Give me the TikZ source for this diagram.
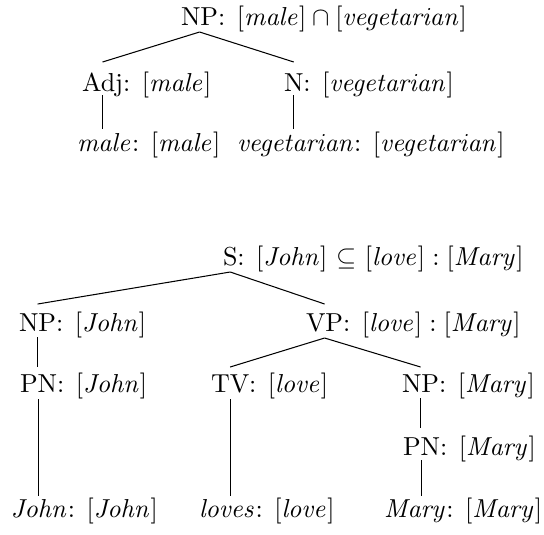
\documentclass[tikz,border=0pt]{standalone}
\usetikzlibrary{calc}
\begin{document}
\begin{tikzpicture}[x=0.385pt,y=-0.385pt,
  cat/.style={anchor=base west,inner sep=0pt,outer sep=0pt},
  sem/.style={anchor=base west,inner sep=0pt,outer sep=0pt},
  branch/.style={line width=0.4pt}]
\useasboundingbox (0,0) rectangle (544,534);

% ---- NP: male vegetarian ----
\node[cat] (np0) at (181,25) {NP};
\node[sem] at (np0.base east) {: $[\mathit{male}]\cap[\mathit{vegetarian}]$};
\node[cat] (adj) at (82,91) {Adj};
\node[sem] at (adj.base east) {: $[\mathit{male}]$};
\node[cat] (n) at (284,91) {N};
\node[sem] at (n.base east) {: $[\mathit{vegetarian}]$};
\node[cat] (male) at (77,151) {$\mathit{male}$};
\node[sem] at (male.base east) {: $[\mathit{male}]$};
\node[cat] (veg) at (237,151) {$\mathit{vegetarian}$};
\node[sem] at (veg.base east) {: $[\mathit{vegetarian}]$};

\draw[branch] ($(np0.base)+(0,7)$) -- ($(adj.base)+(0,-29)$);
\draw[branch] ($(np0.base)+(0,7)$) -- ($(n.base)+(0,-29)$);
\draw[branch] ($(adj.base)+(0,4)$) -- ($(adj.base |- male.base)+(0,-22)$);
\draw[branch] ($(n.base)+(0,4)$) -- ($(n.base |- veg.base)+(0,-22)$);

% ---- S: John loves Mary ----
\node[cat] (s) at (223,265) {S};
\node[sem] at (s.base east) {: $[\mathit{John}]$ $\subseteq$ $[\mathit{love}]:[\mathit{Mary}]$};
\node[cat] (npj) at (19,331) {NP};
\node[sem] at (npj.base east) {: $[\mathit{John}]$};
\node[cat] (vp) at (306,331) {VP};
\node[sem] at (vp.base east) {: $[\mathit{love}]:[\mathit{Mary}]$};
\node[cat] (pnj) at (20,392) {PN};
\node[sem] at (pnj.base east) {: $[\mathit{John}]$};
\node[cat] (tv) at (211,392) {TV};
\node[sem] at (tv.base east) {: $[\mathit{love}]$};
\node[cat] (npm) at (402,392) {NP};
\node[sem] at (npm.base east) {: $[\mathit{Mary}]$};
\node[cat] (pnm) at (403,455) {PN};
\node[sem] at (pnm.base east) {: $[\mathit{Mary}]$};
\node[cat] (john) at (11,517) {$\mathit{John}$};
\node[sem] at (john.base east) {: $[\mathit{John}]$};
\node[cat] (loves) at (199,517) {$\mathit{loves}$};
\node[sem] at (loves.base east) {: $[\mathit{love}]$};
\node[cat] (mary) at (384,517) {$\mathit{Mary}$};
\node[sem] at (mary.base east) {: $[\mathit{Mary}]$};

\draw[branch] ($(s.base)+(0,7)$) -- ($(npj.base)+(0,-27)$);
\draw[branch] ($(s.base)+(0,7)$) -- ($(vp.base)+(0,-27)$);
\draw[branch] ($(vp.base)+(0,7)$) -- ($(tv.base)+(0,-25)$);
\draw[branch] ($(vp.base)+(0,7)$) -- ($(npm.base)+(0,-25)$);
\draw[branch] ($(npj.base)+(0,6)$) -- ($(npj.base |- pnj.base)+(0,-25)$);
\draw[branch] ($(pnj.base)+(0,7)$) -- ($(pnj.base |- john.base)+(0,-21)$);
\draw[branch] ($(tv.base)+(0,7)$) -- ($(tv.base |- loves.base)+(0,-21)$);
\draw[branch] ($(npm.base)+(0,6)$) -- ($(npm.base |- pnm.base)+(0,-27)$);
\draw[branch] ($(pnm.base)+(0,5)$) -- ($(pnm.base |- mary.base)+(0,-21)$);
\end{tikzpicture}
\end{document}
